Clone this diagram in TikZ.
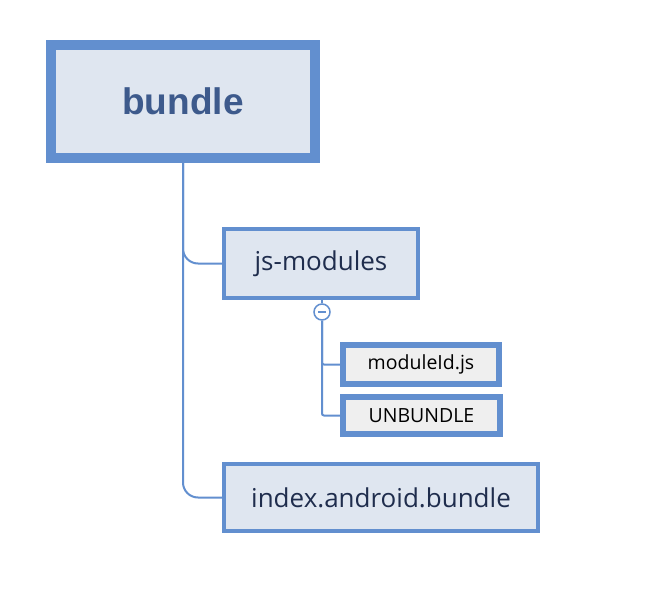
\documentclass[tikz,border=0pt]{standalone}
\usepackage{fontspec}
\setmainfont{Open Sans}
\newfontfamily\titlefont{Liberation Sans}
\definecolor{bordc}{HTML}{628FCF}
\definecolor{fillc}{HTML}{DFE6F0}
\definecolor{leaffill}{HTML}{EFEFEF}
\definecolor{titletext}{HTML}{3D5A8C}
\definecolor{bodytext}{HTML}{1F2D4D}
\begin{document}
\begin{tikzpicture}[x=1pt,y=-1pt,
  rootbox/.style={draw=bordc,fill=fillc,line width=10pt,rectangle,inner sep=0pt,
    minimum width=264pt,minimum height=113pt,
    font=\titlefont\bfseries\fontsize{37}{40}\selectfont,text=titletext},
  midbox/.style={draw=bordc,fill=fillc,line width=4pt,rectangle,inner sep=0pt,
    font=\fontsize{26}{28}\selectfont,text=bodytext},
  leafbox/.style={draw=bordc,fill=leaffill,line width=6pt,rectangle,inner sep=0pt,
    font=\fontsize{19.5}{22}\selectfont,text=black},
  link/.style={draw=bordc,line width=2pt},
  toggle/.style={circle,draw=bordc,fill=white,line width=1.5pt,minimum size=16pt,inner sep=0pt}
]
\useasboundingbox (0,0) rectangle (662,608);
\node[rootbox] (bundle) at (183,101.5) {bundle};
\node[midbox,minimum width=194pt,minimum height=69pt] (js) at (321,263.5) {js-modules};
\node[leafbox,minimum width=156pt,minimum height=39pt] (mod) at (421,364.5) {moduleId.js};
\node[leafbox,minimum width=157pt,minimum height=37pt] (unb) at (421.5,415.5) {UNBUNDLE};
\node[midbox,minimum width=314pt,minimum height=67pt] (idx) at (381,497.5) {index.android.bundle};
\node[toggle] (tog) at (322,312) {};
\draw[draw=bordc,line width=1.5pt] ([xshift=-4pt]tog.center) -- ([xshift=4pt]tog.center);
\draw[link,rounded corners=15pt] (bundle.south) |- (js.west);
\draw[link,rounded corners=15pt] (bundle.south) |- (idx.west);
\draw[link] (js.south -| tog.north) -- (tog.north);
\draw[link,rounded corners=2pt] (tog.south) |- (mod.west);
\draw[link,rounded corners=2pt] (tog.south) |- (unb.west);
\end{tikzpicture}
\end{document}
